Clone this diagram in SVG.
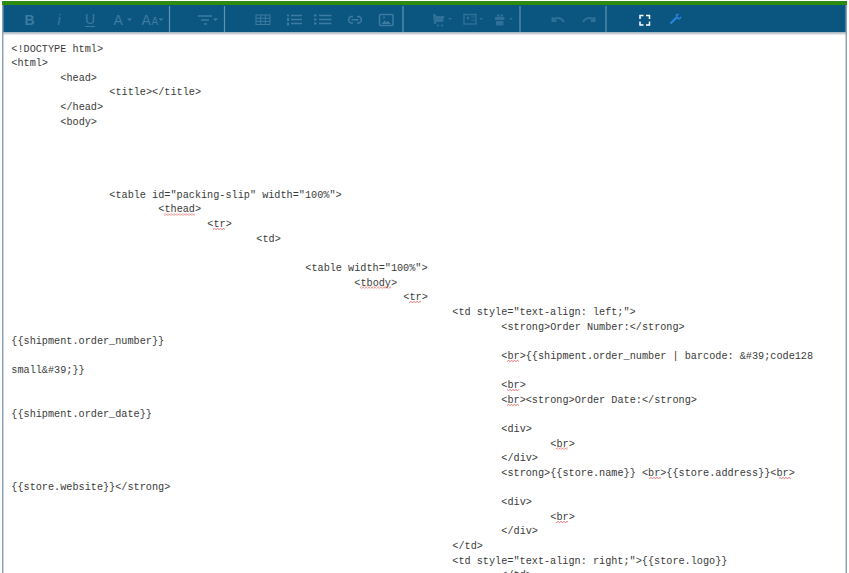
<svg xmlns="http://www.w3.org/2000/svg" width="849" height="573" viewBox="0 0 849 573">
<defs>
<pattern id="w" width="3" height="2" patternUnits="userSpaceOnUse"><path d="M0 1.500L1.500 .5L3 1.500" fill="none" stroke="#e0413a" stroke-width=".7"/></pattern>
</defs>
<style>
.c{font-family:"Liberation Mono","Courier New",monospace;font-size:10.2px;fill:#3a3a3a;white-space:pre}
.t{font-family:"Liberation Sans",Arial,sans-serif;fill:#3d7ba1}
.i{fill:none;stroke:#3d7ba1;stroke-width:1.5}
.f{fill:#3d7ba1}
.d{opacity:.7}
.s{stroke:#5f93b3;stroke-width:1.2}
.q{fill:url(#w)}
</style>
<rect width="849" height="573" fill="#fff"/>
<g id="frame">
<rect x="2" y="1" width="845" height="4" fill="#2f8a10"/>
<rect x="3" y="5" width="843" height="27.500" fill="#0b5680"/>
<rect x="3" y="32.500" width="843" height="2" fill="#c9ced2"/>
<rect x="2" y="5" width="1.500" height="568" fill="#8ba4b8"/>
<rect x="845.500" y="5" width="1.500" height="568" fill="#8ba4b8"/>
</g>
<g id="toolbar">
<text class="t" x="24.500" y="25" font-size="14" font-weight="bold">B</text>
<text class="t" x="57.500" y="25" font-size="14" font-style="italic">i</text>
<text class="t" x="85" y="24" font-size="14">U</text><rect class="f" x="85" y="26" width="10" height="1"/>
<text class="t" x="113.500" y="25" font-size="14">A</text><path class="f" d="M127 18.500h5l-2.500 2.500z"/>
<text class="t" x="141.500" y="25" font-size="14">A</text><text class="t" x="151.500" y="25" font-size="10">A</text><path class="f" d="M158.500 18.500h5l-2.500 2.500z"/>
<path class="s" d="M169.500 6v26M224.500 6v26M403 6v26M520 6v26M606 6v26"/>
<path class="i" d="M198 16h14M201 20h8M204 24h3"/><path class="f" d="M213 18.500h5l-2.500 2.500z"/>
<g class="i" style="stroke-width:1"><rect x="256" y="15" width="14" height="9.500"/><path d="M256 18.200h14M256 21.400h14M260.700 15v9.500M265.300 15v9.500"/></g>
<path class="i" d="M291 15.500h11M291 19.500h11M291 23.500h11"/><path class="f" d="M287 14.500h2v2h-2zM287 18h2v3h-2zM287 22.500h2v3h-2z"/>
<path class="i" d="M319 15.500h12.500M319 19.500h12.500M319 23.500h12.500"/><path class="f" d="M314 14.500h2.500v2h-2.500zM314 18.500h2.500v2h-2.500zM314 22.500h2.500v2h-2.500z"/>
<path class="i" d="M353 16.500h-2.200a3.500 3.500 0 0 0 0 6.500h2.200M357 16.500h2.200a3.500 3.500 0 0 1 0 6.500h-2.200M351.500 19.800h7"/>
<rect class="i" x="379.500" y="14.500" width="13.500" height="11" rx="1"/><path class="f" d="M381.500 24l3-3.500 2 1.800 1.500-1.300 3 3z"/><circle class="f" cx="384" cy="17.500" r="1"/>
<g class="d">
<path class="f" d="M433 14h2.500l1 2h8l-1.500 6h-6.500l-.5 2h-2zM437 24.500h2v2h-2zM441 24.500h2v2h-2z"/><path class="f" d="M448 18h4l-2 2z"/>
<rect class="i" x="464" y="14.500" width="12" height="9.500"/><circle class="f" cx="468" cy="18" r="1.500"/><path class="i" style="stroke-width:1" d="M471 17h4M471 20h4"/><path class="f" d="M479 18h4l-2 2z"/>
<path class="f" d="M495 17h9.500v3h-9.500zM496 21h7.500v4.500h-7.500zM497 14.500h2l1 2h-3zM500 16.500l1-2h2v2z"/><path class="f" d="M509 18h4l-2 2z"/>
<path class="i" style="stroke-width:2" d="M553 20c3-3 8-3 11 2M552.500 17v4h4"/>
<path class="i" style="stroke-width:2" d="M594 20c-3-3-8-3-11 2M594.500 17v4h-4"/>
</g>
<path fill="none" stroke="#fff" stroke-width="1.500" d="M640 19v-3.500h3.500M646 15.500h3.500V19M649.500 21.500v3.500H646M643.500 25H640v-3.500"/>
<path fill="none" stroke="#2b83e0" stroke-width="2.200" d="M670.500 23.500l6-6"/><path fill="#2b83e0" d="M675.500 15.500c.5-1.500 2.300-2 3.800-1.500l-2 2 .7 1.300 1.300.7 2-2c.4 2-1 4-3.500 3.500z"/>
</g>
<g id="code" transform="translate(.3 .6)">
<text class="c" x="11" y="51">&lt;!DOCTYPE html&gt;</text>
<text class="c" x="11" y="65.600">&lt;html&gt;</text>
<text class="c" x="60" y="80.300">&lt;head&gt;</text>
<text class="c" x="109" y="94.900">&lt;title&gt;&lt;/title&gt;</text>
<text class="c" x="60" y="109.500">&lt;/head&gt;</text>
<text class="c" x="60" y="124.200">&lt;body&gt;</text>
<text class="c" x="109" y="197.300">&lt;table id="packing-slip" width="100%"&gt;</text>
<text class="c" x="158" y="211.900">&lt;thead&gt;</text>
<text class="c" x="207" y="226.600">&lt;tr&gt;</text>
<text class="c" x="256" y="241.200">&lt;td&gt;</text>
<text class="c" x="305" y="270.500">&lt;table width="100%"&gt;</text>
<text class="c" x="354" y="285.100">&lt;tbody&gt;</text>
<text class="c" x="403" y="299.700">&lt;tr&gt;</text>
<text class="c" x="452" y="314.300">&lt;td style="text-align: left;"&gt;</text>
<text class="c" x="501" y="329">&lt;strong&gt;Order Number:&lt;/strong&gt;</text>
<text class="c" x="11" y="343.600">{{shipment.order_number}}</text>
<text class="c" x="501" y="358.200">&lt;br&gt;{{shipment.order_number | barcode: &amp;#39;code128</text>
<text class="c" x="11" y="372.900">small&amp;#39;}}</text>
<text class="c" x="501" y="387.500">&lt;br&gt;</text>
<text class="c" x="501" y="402.100">&lt;br&gt;&lt;strong&gt;Order Date:&lt;/strong&gt;</text>
<text class="c" x="11" y="416.800">{{shipment.order_date}}</text>
<text class="c" x="501" y="431.400">&lt;div&gt;</text>
<text class="c" x="550" y="446">&lt;br&gt;</text>
<text class="c" x="501" y="460.600">&lt;/div&gt;</text>
<text class="c" x="501" y="475.300">&lt;strong&gt;{{store.name}} &lt;br&gt;{{store.address}}&lt;br&gt;</text>
<text class="c" x="11" y="489.900">{{store.website}}&lt;/strong&gt;</text>
<text class="c" x="501" y="504.500">&lt;div&gt;</text>
<text class="c" x="550" y="519.200">&lt;br&gt;</text>
<text class="c" x="501" y="533.800">&lt;/div&gt;</text>
<text class="c" x="452" y="548.400">&lt;/td&gt;</text>
<text class="c" x="452" y="563">&lt;td style="text-align: right;"&gt;{{store.logo}}</text>
<text class="c" x="501" y="577.700">&lt;/td&gt;</text>
</g>
<g id="spellcheck">
<rect class="q" x="164" y="213.500" width="31" height="2"/>
<rect class="q" x="213" y="228" width="12" height="2"/>
<rect class="q" x="360" y="286.500" width="31" height="2"/>
<rect class="q" x="409" y="301" width="12" height="2"/>
<rect class="q" x="507" y="360" width="12" height="2"/>
<rect class="q" x="507" y="389" width="12" height="2"/>
<rect class="q" x="507" y="404" width="12" height="2"/>
<rect class="q" x="556" y="447.500" width="12" height="2"/>
<rect class="q" x="649" y="477" width="12" height="2"/>
<rect class="q" x="779" y="477" width="12" height="2"/>
<rect class="q" x="556" y="521" width="12" height="2"/>
</g>
</svg>
